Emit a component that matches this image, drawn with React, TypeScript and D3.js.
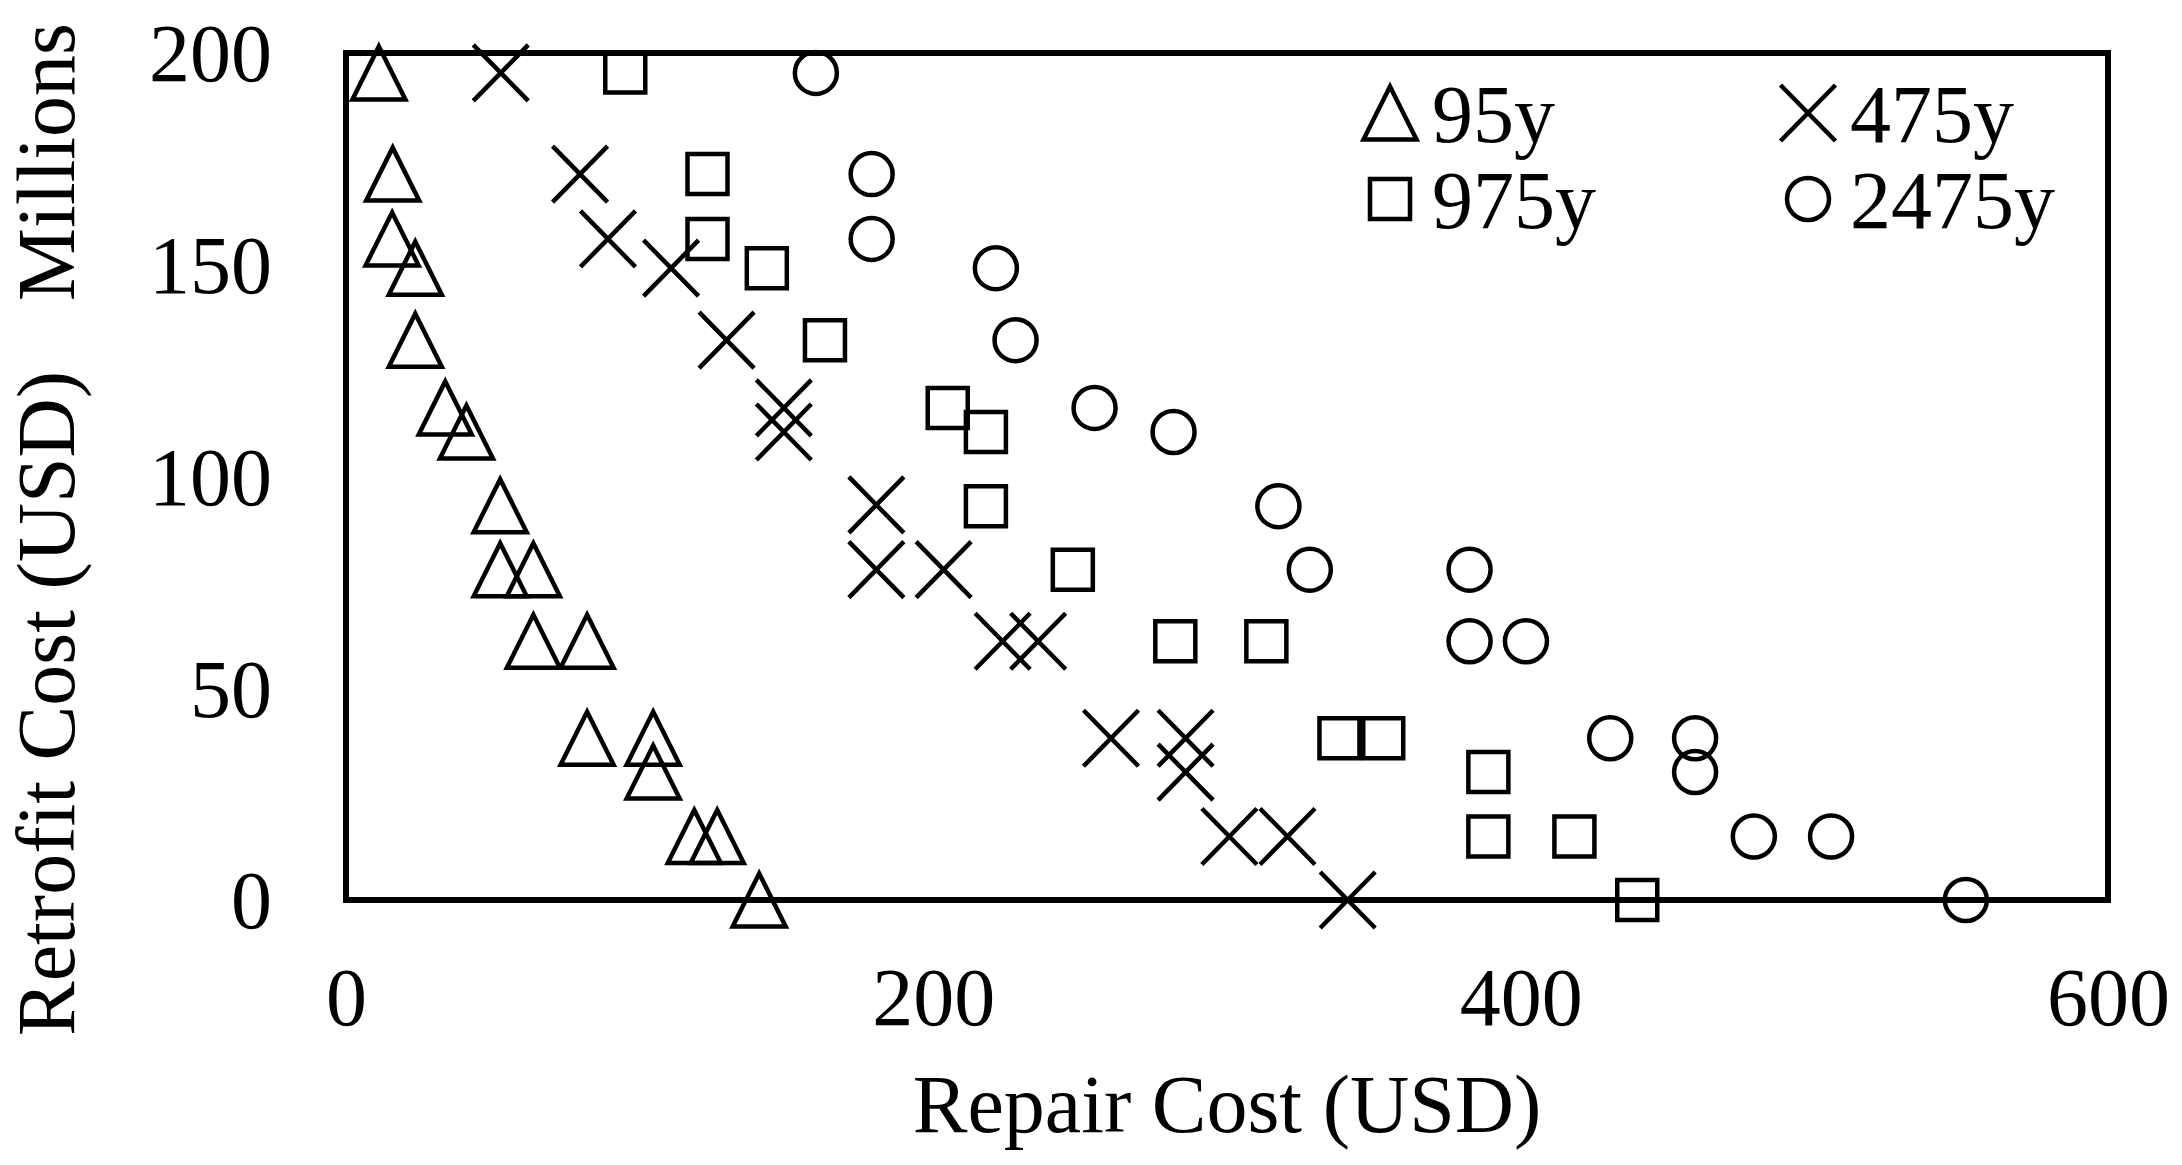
import { useEffect, useRef } from 'react';
import * as d3 from 'd3';

// repair cost (x) / retrofit cost in millions (y) for each return period
const tri95X = [11.2, 15.9, 15.7, 23.6, 23.6, 33.8, 41, 52.5, 52.5, 63.8, 63.8, 82.1, 82.1, 104.6, 104.6, 118.6, 126.4, 140.7];
const tri95Y = [195.3, 171.4, 156.1, 149.2, 132.2, 116.2, 110.5, 93.1, 78, 78, 61.1, 61.1, 38.2, 38.2, 30.2, 15, 15, 0];

const cross475X = [52.7, 79.7, 89.2, 110.7, 129.6, 149.1, 149.1, 180.6, 180.6, 203.5, 223.6, 235.7, 260.5, 285.9, 285.9, 300.8, 320.6, 341.1];
const cross475Y = [195.3, 171.4, 156.1, 149.2, 132.2, 116.2, 110.5, 93.3, 78, 78, 61.1, 61.1, 38.2, 38.2, 30.2, 15, 15, 0];

const sq975X = [95.1, 123.1, 123.1, 143.3, 163.1, 204.9, 217.9, 217.9, 247.5, 282.4, 313.4, 338.3, 353.2, 389, 389, 418.3, 439.7];
const sq975Y = [195.4, 171.4, 156.1, 149.2, 132.2, 116.2, 110.5, 93, 78, 61.1, 61.1, 38.2, 38.2, 30.2, 15, 15, 0];

const circ2475X = [160, 179, 179, 221.3, 228, 254.9, 281.8, 317.5, 328.2, 382.6, 382.6, 401.8, 430.5, 459.4, 459.4, 479.4, 505.7, 551.6];
const circ2475Y = [195.3, 171.4, 156.1, 149.2, 132.2, 116.2, 110.5, 93, 78, 78, 61.1, 61.1, 38.2, 38.2, 30.2, 15, 15, 0];

const xTicks = [0, 200, 400, 600];
const yTicks = [0, 50, 100, 150, 200];

const seriesNames = ['95y', '475y', '975y', '2475y'];
const seriesShapes = ['triangle', 'cross', 'square', 'circle'];

const FONT = '"Liberation Serif", "Times New Roman", serif';

// marker path centred on 0,0
function markerPath(shape: string) {
  if (shape === 'triangle') return 'M0,-26.5L26.5,26.5L-26.5,26.5Z';
  if (shape === 'cross') return 'M-27.5,-28L27.5,28M-27.5,28L27.5,-28';
  if (shape === 'square') return 'M-20,-20H20V20H-20Z';
  return d3.arc()({ innerRadius: 0, outerRadius: 21, startAngle: 0, endAngle: 2 * Math.PI } as any) as string;
}

export default function App() {
  const ref = useRef<SVGSVGElement>(null);

  useEffect(() => {
    const svg = d3.select(ref.current);
    svg.selectAll('*').remove();

    const left = 346, right = 2108, top = 53, bottom = 900;

    const x = d3.scaleLinear().domain([0, 600]).range([left, right]);
    const y = d3.scaleLinear().domain([0, 200]).range([bottom, top]);

    // x axis labels
    const gx = svg.append('g')
      .attr('transform', `translate(0,${bottom})`)
      .call(d3.axisBottom(x).tickValues(xTicks).tickSize(0));
    gx.select('.domain').remove();
    gx.selectAll('text')
      .attr('y', 125)
      .attr('dy', 0)
      .style('font-family', FONT)
      .style('font-size', '82px')
      .attr('fill', '#000');

    // y axis labels
    const gy = svg.append('g')
      .attr('transform', `translate(${left},0)`)
      .call(d3.axisLeft(y).tickValues(yTicks).tickSize(0));
    gy.select('.domain').remove();
    gy.selectAll('text')
      .attr('x', -74)
      .attr('dy', '0.34em')
      .style('font-family', FONT)
      .style('font-size', '82px')
      .attr('fill', '#000');

    // axis titles
    svg.append('text')
      .attr('x', (left + right) / 2)
      .attr('y', 1132)
      .attr('text-anchor', 'middle')
      .style('font-family', FONT)
      .style('font-size', '82px')
      .text('Repair Cost (USD)');

    svg.append('text')
      .attr('transform', 'translate(74,1036) rotate(-90)')
      .style('font-family', FONT)
      .style('font-size', '82px')
      .text('Retrofit Cost (USD)');

    svg.append('text')
      .attr('transform', 'translate(74,301) rotate(-90)')
      .style('font-family', FONT)
      .style('font-size', '82px')
      .text('Millions');

    // plot border
    svg.append('rect')
      .attr('x', left)
      .attr('y', top)
      .attr('width', right - left)
      .attr('height', bottom - top)
      .attr('fill', 'none')
      .attr('stroke', '#000')
      .attr('stroke-width', 6);

    const series = [
      { xs: tri95X, ys: tri95Y },
      { xs: cross475X, ys: cross475Y },
      { xs: sq975X, ys: sq975Y },
      { xs: circ2475X, ys: circ2475Y },
    ];

    series.forEach((s, i) => {
      const pts = s.xs.map((v, j) => [v, s.ys[j]]);
      svg.append('g')
        .selectAll('path')
        .data(pts)
        .enter()
        .append('path')
        .attr('d', markerPath(seriesShapes[i]))
        .attr('transform', d => `translate(${x(d[0])},${y(d[1])})`)
        .attr('fill', 'none')
        .attr('stroke', '#000')
        .attr('stroke-width', 4.5);
    });

    // legend, 2 columns x 2 rows
    const legX = [1390, 1808];
    const legY = [113, 199];
    seriesNames.forEach((name, i) => {
      const col = i % 2, row = Math.floor(i / 2);
      const g = svg.append('g').attr('transform', `translate(${legX[col]},${legY[row]})`);
      g.append('path')
        .attr('d', markerPath(seriesShapes[i]))
        .attr('fill', 'none')
        .attr('stroke', '#000')
        .attr('stroke-width', 4.5);
      g.append('text')
        .attr('x', 42)
        .attr('y', 29)
        .style('font-family', FONT)
        .style('font-size', '82px')
        .text(name);
    });
  }, []);

  return (
    <svg
      ref={ref}
      width={2182}
      height={1165}
      style={{ position: 'absolute', left: 0, top: 0, background: '#fff' }}
    />
  );
}
